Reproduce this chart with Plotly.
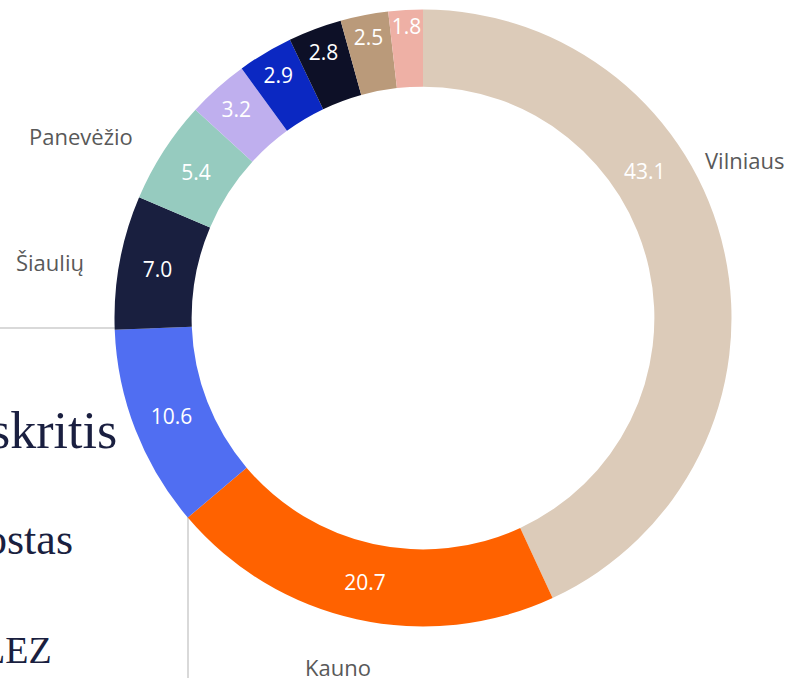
import plotly.graph_objects as go

# Data
regions = ["Vilniaus", "Kauno", "Klaipėdos", "Šiaulių", "Panevėžio",
           "Alytaus", "Marijampolės", "Utenos", "Telšių", "Tauragės"]
shares = [43.1, 20.7, 10.6, 7.0, 5.4, 3.2, 2.9, 2.8, 2.5, 1.8]
colors = ["#DCCBB9", "#FF6200", "#506EF2", "#191F3F", "#96CBBF",
          "#BFAFEE", "#0B28C2", "#0D1027", "#BA9A7A", "#EEB0A5"]

outer_labels = ["Vilniaus", "Kauno", "Šiaulių", "Panevėžio"]
outer_label_pos = [(744, 159.5), (337.5, 666.5), (50, 261.5), (81, 135.8)]

side_texts = ["skritis", "ostas", "LEZ"]
side_text_pos = [(119, 430.5, 52), (75, 539, 44), (54, 649.5, 38)]

W, H = 792, 678

# value labels placed by the library, except the largest one, which the
# reference shows moved up along the ring
slice_texts = [f"{v:.1f}" for v in shares]
slice_texts[0] = ""
moved_value_pos = (644.5, 171)

fig = go.Figure()
fig.add_trace(go.Pie(
    labels=regions,
    values=shares,
    sort=False,
    direction="clockwise",
    rotation=0,
    hole=0.75,
    marker=dict(colors=colors, line=dict(width=0)),
    text=slice_texts,
    textinfo="text",
    textposition="inside",
    insidetextorientation="horizontal",
    textfont=dict(family="Open Sans", size=21, color="white"),
    showlegend=False,
    hoverinfo="label+value",
    domain=dict(x=[114.5 / W, 731.5 / W], y=[1 - 626.5 / H, 1 - 9.5 / H]),
))

annotations = [dict(
    text=f"{shares[0]:.1f}", x=moved_value_pos[0] / W, y=1 - moved_value_pos[1] / H,
    xref="paper", yref="paper", xanchor="center", yanchor="middle",
    showarrow=False, font=dict(family="Open Sans", size=21, color="white"),
)]
for txt, (px, py) in zip(outer_labels, outer_label_pos):
    annotations.append(dict(
        text=txt, x=px / W, y=1 - py / H, xref="paper", yref="paper",
        xanchor="center", yanchor="middle", showarrow=False,
        font=dict(family="Open Sans", size=22, color="#595959"),
    ))
for txt, (px, py, fs) in zip(side_texts, side_text_pos):
    annotations.append(dict(
        text=txt, x=px / W, y=1 - py / H, xref="paper", yref="paper",
        xanchor="right", yanchor="middle", showarrow=False,
        font=dict(family="Liberation Serif", size=fs, color="#1A1F40"),
    ))

shapes = [
    dict(type="line", xref="paper", yref="paper", layer="below",
         x0=0, x1=150 / W, y0=1 - 328 / H, y1=1 - 328 / H,
         line=dict(color="#D9D9D9", width=2)),
    dict(type="line", xref="paper", yref="paper", layer="below",
         x0=188 / W, x1=188 / W, y0=0, y1=1 - 450 / H,
         line=dict(color="#D9D9D9", width=2)),
]

fig.update_layout(
    width=W, height=H,
    margin=dict(l=0, r=0, t=0, b=0),
    paper_bgcolor="white",
    plot_bgcolor="white",
    uniformtext=dict(minsize=21, mode="show"),
    annotations=annotations,
    shapes=shapes,
)

fig.write_html(
    "out.html",
    config={"displayModeBar": False},
    post_script="document.body.style.margin='0';document.body.style.overflow='hidden';",
)
